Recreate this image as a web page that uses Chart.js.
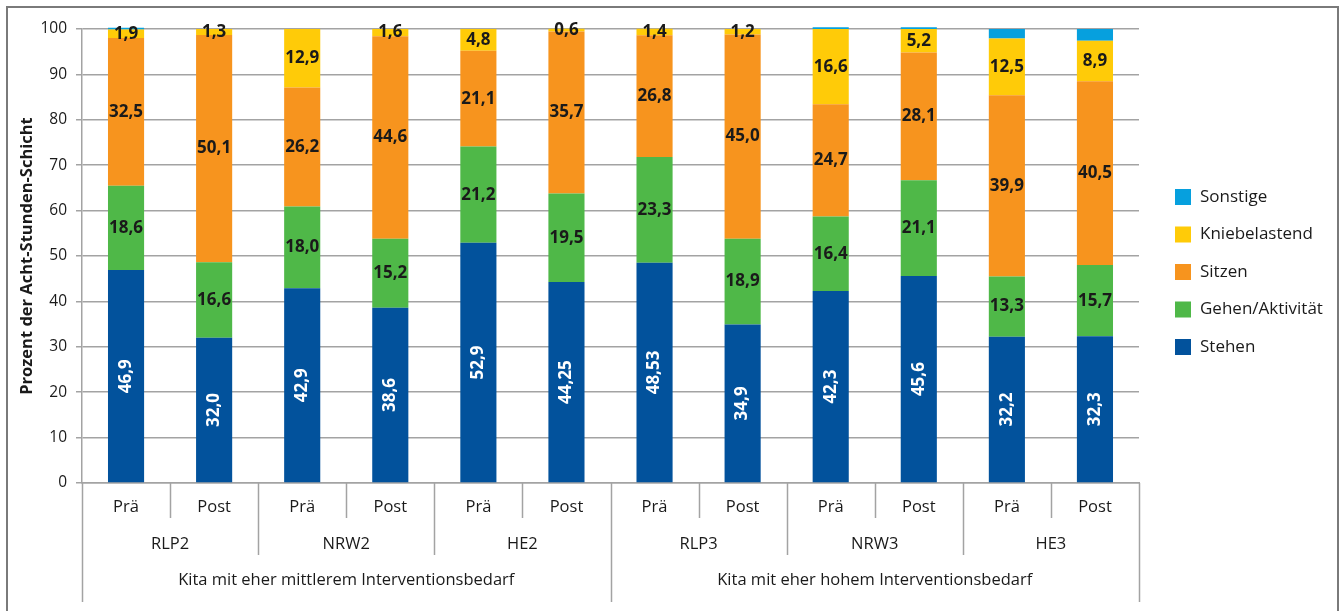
<!DOCTYPE html>
<html>
<head>
<meta charset="utf-8">
<script src="https://cdn.jsdelivr.net/npm/chart.js@4.4.0/dist/chart.umd.min.js"></script>
<style>
  html, body { margin: 0; padding: 0; background: #fff; }
  #wrap { position: relative; width: 1341px; height: 611px; }
</style>
</head>
<body>
<div id="wrap"><canvas id="chart" width="1341" height="611"></canvas></div>
<script>
/* Stacked bars: Tätigkeitsanteile je Kita, Prä/Post */

const categories = ['Prä', 'Post', 'Prä', 'Post', 'Prä', 'Post', 'Prä', 'Post', 'Prä', 'Post', 'Prä', 'Post'];
const sites = ['RLP2', 'NRW2', 'HE2', 'RLP3', 'NRW3', 'HE3'];
const groups = ['Kita mit eher mittlerem Interventionsbedarf', 'Kita mit eher hohem Interventionsbedarf'];
const yTicks = [0, 10, 20, 30, 40, 50, 60, 70, 80, 90, 100];

const stehen   = [46.9, 32.0, 42.9, 38.6, 52.9, 44.25, 48.53, 34.9, 42.3, 45.6, 32.2, 32.3];
const gehen    = [18.6, 16.6, 18.0, 15.2, 21.2, 19.5, 23.3, 18.9, 16.4, 21.1, 13.3, 15.7];
const sitzen   = [32.5, 50.1, 26.2, 44.6, 21.1, 35.7, 26.8, 45.0, 24.7, 28.1, 39.9, 40.5];
const knie     = [1.9, 1.3, 12.9, 1.6, 4.8, 0.6, 1.4, 1.2, 16.6, 5.2, 12.5, 8.9];
const sonstige = [0.4, 0, 0, 0, 0, 0, 0, 0, 0.4, 0.4, 2.1, 2.6];

const FONT = "'Open Sans', 'Noto Sans', sans-serif";
const TEXT = '#1a1a1a';
const GRID = '#a3a3a3';
const FRAME = '#7a7a7a';

Chart.defaults.font.family = FONT;
Chart.defaults.color = TEXT;

const fmt = v => v.toLocaleString('de-DE', { minimumFractionDigits: 1, maximumFractionDigits: 2 });

// value labels inside the segments (Stehen rotated, white)
const segmentLabels = {
    id: 'segmentLabels',
    afterDatasetsDraw(chart) {
        const ctx = chart.ctx;
        ctx.save();
        ctx.font = 'bold 17px ' + FONT;
        ctx.textAlign = 'center';
        ctx.textBaseline = 'middle';
        chart.data.datasets.forEach((ds, di) => {
            if (ds.label === 'Sonstige') return;
            chart.getDatasetMeta(di).data.forEach((bar, i) => {
                const v = ds.data[i];
                if (!v) return;
                const cy = (bar.y + bar.base) / 2;
                if (ds.label === 'Stehen') {
                    ctx.save();
                    ctx.translate(bar.x, cy);
                    ctx.rotate(-Math.PI / 2);
                    ctx.fillStyle = '#ffffff';
                    ctx.fillText(fmt(v), 0, 0);
                    ctx.restore();
                } else {
                    ctx.fillStyle = TEXT;
                    ctx.fillText(fmt(v), bar.x, cy);
                }
            });
        });
        ctx.restore();
    }
};

// three-level category axis + outer frame + legend
const decorations = {
    id: 'decorations',
    afterDraw(chart) {
        const { ctx, chartArea, scales: { x } } = chart;
        const step = x.getPixelForValue(1) - x.getPixelForValue(0);
        const edge = i => x.getPixelForValue(i) - step / 2;
        const top = chartArea.bottom;

        ctx.save();
        ctx.strokeStyle = GRID;
        ctx.lineWidth = 1.5;
        for (let i = 0; i <= categories.length; i++) {
            const bottom = i % 6 === 0 ? 602 : (i % 2 === 0 ? 555 : 518);
            const px = Math.round(edge(i)) + 0.5;
            ctx.beginPath();
            ctx.moveTo(px, top);
            ctx.lineTo(px, bottom);
            ctx.stroke();
        }

        ctx.fillStyle = TEXT;
        ctx.font = '16.5px ' + FONT;
        ctx.textAlign = 'center';
        ctx.textBaseline = 'middle';
        categories.forEach((c, i) => ctx.fillText(c, x.getPixelForValue(i), 507));
        sites.forEach((s, i) => ctx.fillText(s, (edge(i * 2) + edge(i * 2 + 2)) / 2, 544));
        groups.forEach((g, i) => ctx.fillText(g, (edge(i * 6) + edge(i * 6 + 6)) / 2, 580));

        // legend, reversed order
        const items = chart.data.datasets.slice().reverse();
        ctx.textAlign = 'left';
        ctx.font = '17px ' + FONT;
        items.forEach((ds, i) => {
            const cy = 197 + i * 37.5;
            ctx.fillStyle = ds.backgroundColor;
            ctx.fillRect(1175, cy - 8, 16, 16);
            ctx.fillStyle = TEXT;
            ctx.fillText(ds.label, 1200, cy);
        });

        // frame
        ctx.strokeStyle = FRAME;
        ctx.lineWidth = 2;
        ctx.beginPath();
        ctx.moveTo(7, 620);
        ctx.lineTo(7, 7);
        ctx.lineTo(1338, 7);
        ctx.lineTo(1338, 620);
        ctx.stroke();
        ctx.restore();
    }
};

const mk = (label, data, color) => ({
    label, data, backgroundColor: color, borderWidth: 0, clip: false,
    barPercentage: 0.41, categoryPercentage: 1
});

new Chart(document.getElementById('chart'), {
    type: 'bar',
    data: {
        labels: categories,
        datasets: [
            mk('Stehen', stehen, '#02529c'),
            mk('Gehen/Aktivität', gehen, '#4fb848'),
            mk('Sitzen', sitzen, '#f7941e'),
            mk('Kniebelastend', knie, '#ffcb08'),
            mk('Sonstige', sonstige, '#06a0de'),
        ],
    },
    options: {
        responsive: false,
        animation: false,
        devicePixelRatio: 1,
        layout: { padding: { top: 29, right: 202, bottom: 0, left: 0 } },
        plugins: { legend: { display: false }, tooltip: { enabled: false } },
        scales: {
            x: {
                stacked: true,
                grid: { display: false },
                border: { display: true, color: GRID, width: 1.5 },
                ticks: { display: false },
                afterFit(scale) { scale.height = 128; },
            },
            y: {
                stacked: true,
                min: 0,
                max: 100,
                afterBuildTicks(scale) { scale.ticks = yTicks.map(v => ({ value: v })); },
                ticks: { color: TEXT, font: { size: 15.5 }, padding: 9 },
                grid: { color: GRID, lineWidth: 1.5, tickLength: 6 },
                border: { color: GRID, width: 1.5 },
                title: {
                    display: true,
                    text: 'Prozent der Acht-Stunden-Schicht',
                    color: TEXT,
                    font: { size: 16.5, weight: 'bold' },
                    padding: { top: 17, bottom: 0 },
                },
                afterFit(scale) { scale.width = 82; },
            },
        },
    },
    plugins: [segmentLabels, decorations],
});
</script>
</body>
</html>
